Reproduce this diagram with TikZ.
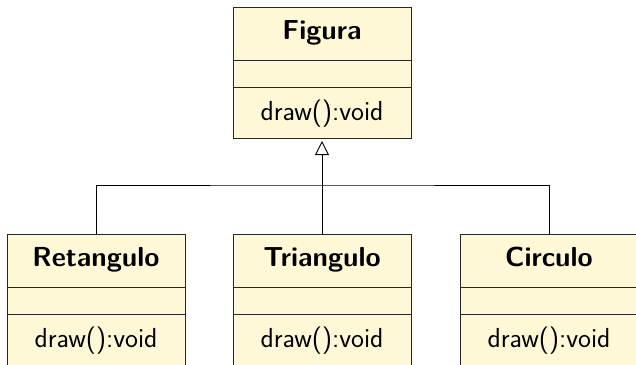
\documentclass[tikz,border=0pt]{standalone}
\usetikzlibrary{arrows.meta}
\definecolor{umlfill}{RGB}{255,248,214}
\definecolor{umlline}{RGB}{40,40,40}
\begin{document}
\begin{tikzpicture}[x=1pt,y=-1pt,
  compart/.style={draw=umlline,fill=umlfill,line width=1pt,minimum width=178pt,
    inner sep=0pt,outer sep=0pt,
    font=\sffamily\fontsize{27.5}{32}\selectfont},
  namepart/.style={compart,minimum height=53pt,text height=20pt,text depth=9pt,
    font=\sffamily\bfseries\fontsize{27.5}{32}\selectfont},
  attrpart/.style={compart,minimum height=27pt},
  methpart/.style={compart,minimum height=51pt,text height=20pt,text depth=5pt},
  link/.style={draw=black,line width=0.9pt},
  inherit/.style={link,-{Triangle[open,length=14pt,width=14pt,line width=0.9pt]},shorten >=3pt}]
\useasboundingbox (0,0) rectangle (636,364);
\clip (0,0) rectangle (636,364);

% superclass
\node[namepart] (fig) at (322,33.5) {Figura};
\node[attrpart] (figA) at (322,73.5) {};
\node[methpart] (figM) at (322,112.5) {draw():void};

% subclasses
\node[namepart] (ret) at (96,260.5) {Retangulo};
\node[attrpart] (retA) at (96,300.5) {};
\node[methpart] (retM) at (96,339.5) {draw():void};

\node[namepart] (tri) at (322,260.5) {Triangulo};
\node[attrpart] (triA) at (322,300.5) {};
\node[methpart] (triM) at (322,339.5) {draw():void};

\node[namepart] (cir) at (549,260.5) {Circulo};
\node[attrpart] (cirA) at (549,300.5) {};
\node[methpart] (cirM) at (549,339.5) {draw():void};

% generalisation connectors
\coordinate (bus) at (322,185);
\draw[link] (ret.north) |- (bus) -| (cir.north);
\draw[inherit] (tri.north) -- (figM.south);
\end{tikzpicture}
\end{document}
